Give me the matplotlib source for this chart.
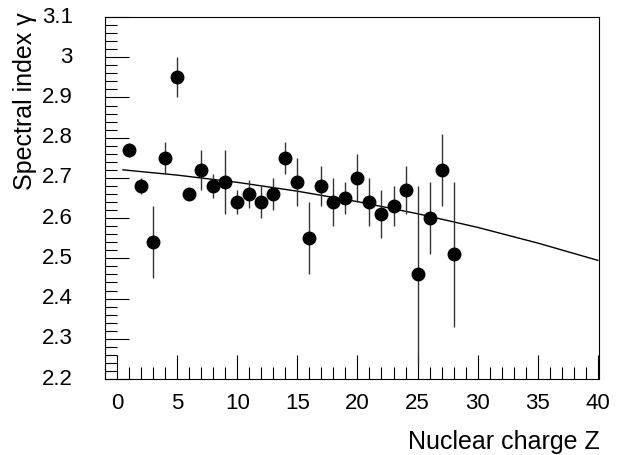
import matplotlib
matplotlib.use("Agg")
import matplotlib.pyplot as plt
from matplotlib.ticker import MultipleLocator
from matplotlib.transforms import blended_transform_factory

plt.rcParams['font.family'] = ['Liberation Sans', 'DejaVu Sans']

# measured points
z = [1, 2, 3, 4, 5, 6, 7, 8, 9, 10, 11, 12, 13, 14,
     15, 16, 17, 18, 19, 20, 21, 22, 23, 24, 25, 26, 27, 28]
gamma = [2.77, 2.68, 2.54, 2.75, 2.95, 2.66, 2.72, 2.68, 2.69, 2.64, 2.66, 2.64, 2.66, 2.75,
         2.69, 2.55, 2.68, 2.64, 2.65, 2.70, 2.64, 2.61, 2.63, 2.67, 2.46, 2.60, 2.72, 2.51]
err = [0.018, 0.02, 0.09, 0.04, 0.05, 0.015, 0.05, 0.03, 0.08, 0.03, 0.035, 0.04, 0.04, 0.04,
       0.06, 0.09, 0.05, 0.06, 0.04, 0.06, 0.06, 0.06, 0.05, 0.06, 0.22, 0.09, 0.09, 0.18]

# fitted curve
z_fit = [0.5, 5, 10, 15, 20, 25, 30, 35, 40]
g_fit = [2.720, 2.707, 2.689, 2.667, 2.641, 2.611, 2.577, 2.538, 2.495]

xticks = [0, 5, 10, 15, 20, 25, 30, 35, 40]
yticks = [2.2, 2.3, 2.4, 2.5, 2.6, 2.7, 2.8, 2.9, 3.0, 3.1]
ytick_labels = ['2.2', '2.3', '2.4', '2.5', '2.6', '2.7', '2.8', '2.9', '3', '3.1']

fig = plt.figure(figsize=(6.26, 4.55), dpi=100)
ax = fig.add_axes([0.1677, 0.167, 0.7893, 0.7956])

ax.plot(z_fit, g_fit, color='black', lw=1.0)
ax.errorbar(z, gamma, yerr=err, fmt='o', color='black', ms=9,
            ecolor='#333333', elinewidth=1.0, capsize=0)

ax.set_xlim(-1, 40.1)
ax.set_ylim(2.2, 3.1)

ax.set_xticks(xticks)
ax.set_yticks(yticks)
ax.xaxis.set_minor_locator(MultipleLocator(1))
ax.yaxis.set_minor_locator(MultipleLocator(0.02))
ax.tick_params(which='both', direction='in', top=False, right=False,
               labelleft=False, labelbottom=False)
ax.tick_params(which='major', length=17, width=0.8)
ax.tick_params(which='minor', length=8.6, width=0.8)

# tick labels sit well away from the frame, like the ROOT original
ty = blended_transform_factory(ax.transAxes, ax.transData)
for v, s in zip(yticks, ytick_labels):
    ax.text(-0.065, v, s, transform=ty, ha='right', va='center', fontsize=16)
tx = blended_transform_factory(ax.transData, ax.transAxes)
for v in xticks:
    ax.text(v, -0.068, str(v), transform=tx, ha='center', va='center', fontsize=16)

fig.text(0.958, 0.013, 'Nuclear charge Z', ha='right', va='baseline', fontsize=18)
fig.text(0.04, 0.972, 'Spectral index \u03b3', ha='center', va='top', rotation=90, fontsize=18)

fig.savefig('out.png', dpi=100)
